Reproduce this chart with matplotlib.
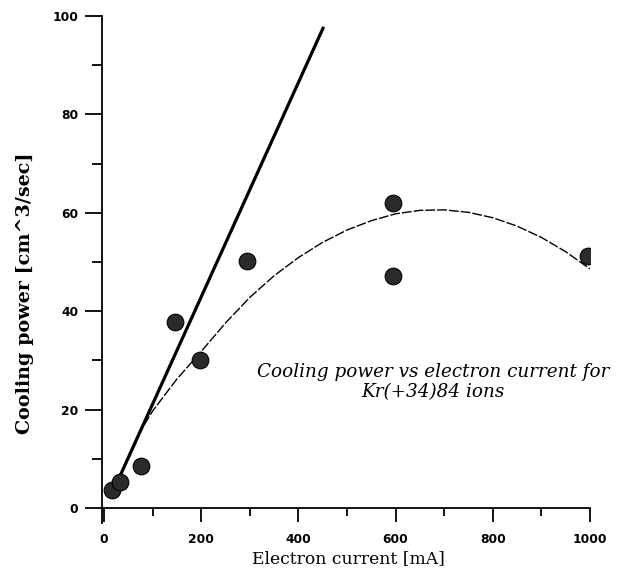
#! /usr/bin/env python
# -*- coding:utf8 -*-
import matplotlib
matplotlib.use('Agg')
import matplotlib.pyplot as plt
from matplotlib.ticker import MultipleLocator

# measured points: electron current [mA] vs cooling power
current = [16, 33, 76, 146, 197, 294, 595, 595, 996]
power = [3.7, 5.3, 8.5, 37.8, 30.0, 50.2, 62.0, 47.2, 51.2]

# straight (thick) line
line_x = [33, 452]
line_y = [6.5, 97.8]

# fitted (thin) curve
curve_x = [40, 70, 100, 150, 200, 250, 300, 350, 400, 450, 500,
           550, 600, 650, 700, 750, 800, 850, 900, 950, 1000]
curve_y = [8.3, 14.8, 19.7, 26.2, 31.8, 37.6, 42.8, 47.2, 50.9, 54.0, 56.5,
           58.4, 59.8, 60.5, 60.6, 60.1, 59.0, 57.3, 55.0, 52.1, 48.6]

x_ticks = [0, 200, 400, 600, 800, 1000]
y_ticks = [0, 20, 40, 60, 80, 100]

fig = plt.figure(figsize=(6.2, 5.68), dpi=100)
ax = fig.add_axes([0.1645, 0.0796, 0.7871, 0.8922])

ax.plot(line_x, line_y, color='black', lw=2.3, solid_capstyle='butt')
ax.plot(curve_x, curve_y, color='black', lw=1.0, linestyle=(0, (7, 1.5)))
ax.plot(current, power, 'o', ms=12, mfc='#2b2b2b', mec='black', mew=0.8)

ax.set_xlim(-4, 1000)
ax.set_ylim(-3, 100)

for s in ['top', 'right']:
    ax.spines[s].set_visible(False)
ax.spines['bottom'].set_position(('data', 0))
ax.spines['left'].set_linewidth(1.3)
ax.spines['bottom'].set_linewidth(1.3)

ax.set_xticks(x_ticks)
ax.set_yticks(y_ticks)
ax.xaxis.set_minor_locator(MultipleLocator(100))
ax.yaxis.set_minor_locator(MultipleLocator(10))
ax.tick_params(axis='x', which='major', direction='out', length=10, width=1.3, pad=8)
ax.tick_params(axis='x', which='minor', direction='out', length=6, width=1.3)
ax.tick_params(axis='y', which='major', direction='out', length=12, width=1.3, pad=5)
ax.tick_params(axis='y', which='minor', direction='out', length=7, width=1.3)
for lab in ax.get_xticklabels() + ax.get_yticklabels():
    lab.set_fontfamily('DejaVu Sans')
    lab.set_fontweight('bold')
    lab.set_fontsize(8.8)

ax.set_xlabel('Electron current [mA]', fontfamily='DejaVu Serif', fontsize=12.3)
ax.xaxis.set_label_coords(0.506, -0.054)
ax.set_ylabel('Cooling power [cm^3/sec]', fontfamily='DejaVu Serif',
              fontsize=13.8, fontweight='bold')
ax.yaxis.set_label_coords(-0.14, 0.453)

ax.text(0.678, 0.278, 'Cooling power vs electron current for\nKr(+34)84 ions',
        transform=ax.transAxes, ha='center', va='center', fontfamily='DejaVu Serif',
        fontstyle='italic', fontsize=13.2, linespacing=1.15)

fig.savefig('out.png', dpi=100)
